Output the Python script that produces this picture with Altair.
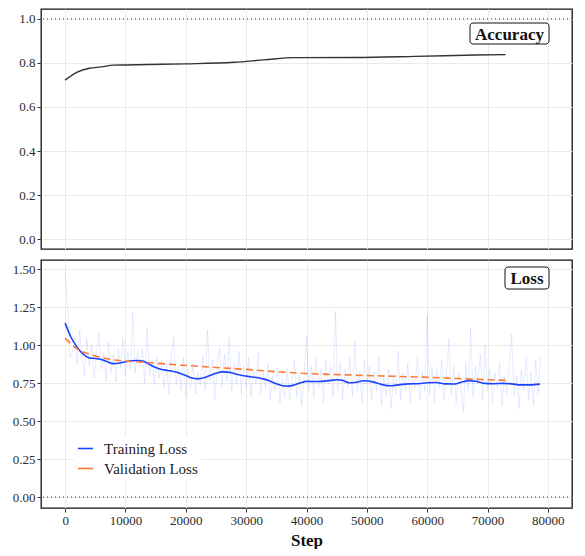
import altair as alt
import pandas as pd

FONT = "Liberation Serif"

# ---------------- data ----------------
acc_steps = [0, 2000, 4000, 6000, 8000, 10000, 14000, 20000, 28000, 33000, 38000, 48000, 58000, 68000, 73000]
acc_vals = [0.722, 0.758, 0.776, 0.782, 0.790, 0.791, 0.793, 0.796, 0.803, 0.814, 0.824, 0.825, 0.830, 0.836, 0.838]

raw_steps = list(range(0, 78801, 400))
raw_loss = [
    1.48, 1.26, 0.92, 0.95, 1.05, 0.87, 1.10, 0.92, 0.80, 1.05,
    0.86, 1.00, 0.78, 0.96, 1.08, 0.84, 0.95, 0.76, 1.02, 0.82,
    0.94, 0.76, 0.98, 0.85, 1.05, 0.80, 0.95, 0.84, 1.21, 0.82,
    0.95, 0.86, 0.98, 0.75, 1.12, 0.80, 0.90, 0.74, 0.92, 0.78,
    0.90, 0.72, 0.88, 0.68, 0.95, 1.05, 0.74, 0.86, 0.70, 0.92,
    0.66, 0.84, 0.72, 0.88, 0.68, 0.82, 0.74, 0.92, 0.70, 1.10,
    0.76, 0.90, 0.64, 0.86, 0.98, 0.72, 0.94, 0.76, 1.05, 0.70,
    0.88, 0.74, 0.96, 0.68, 0.86, 0.72, 0.92, 0.66, 0.84, 0.74,
    0.95, 0.68, 0.82, 0.72, 0.88, 0.64, 0.80, 0.70, 0.85, 0.62,
    0.78, 0.66, 0.84, 0.64, 0.76, 0.90, 0.66, 0.82, 0.60, 0.80,
    1.06, 0.70, 0.86, 0.66, 0.92, 0.72, 0.84, 0.62, 0.90, 0.74,
    0.86, 0.66, 1.22, 0.70, 0.88, 0.64, 0.84, 0.72, 0.92, 0.66,
    1.02, 0.70, 0.82, 0.62, 0.90, 0.74, 0.86, 0.64, 0.82, 0.70,
    0.92, 0.60, 0.80, 0.66, 0.84, 0.58, 0.78, 0.68, 0.96, 0.64,
    0.82, 0.70, 0.88, 0.62, 0.80, 0.72, 0.92, 0.64, 0.82, 0.70,
    1.20, 0.68, 0.86, 0.62, 0.84, 0.72, 0.90, 0.64, 0.80, 1.04,
    0.68, 0.86, 0.62, 0.82, 0.72, 0.56, 0.88, 0.70, 1.11, 0.66,
    0.86, 0.74, 0.94, 0.64, 1.00, 0.70, 0.84, 0.62, 0.82, 0.72,
    0.88, 0.60, 0.80, 0.68, 0.86, 1.07, 0.66, 0.80, 0.58, 0.84,
    0.70, 0.92, 0.64, 0.82, 0.60, 0.90, 0.68, 0.93,
]

train_steps = [0, 1000, 2000, 3000, 4000, 5000, 6000, 7000, 8000, 9000,
               10000, 11000, 12000, 13000, 14000, 15000, 16000, 17000, 18000, 19000,
               20000, 21000, 22000, 23000, 24000, 25000, 26000, 27000, 28000, 29000,
               30000, 31000, 32000, 33000, 34000, 35000, 36000, 37000, 38000, 39000,
               40000, 42000, 44000, 45000, 46000, 47000, 48000, 49500, 51000, 52500,
               54000, 55500, 57000, 58500, 60000, 61500, 63000, 64500, 66000, 67000,
               68000, 69500, 71000, 72500, 74000, 75500, 77000, 78700]
train_loss = [1.145, 1.050, 0.985, 0.940, 0.915, 0.912, 0.905, 0.890, 0.878, 0.882,
              0.890, 0.897, 0.899, 0.893, 0.872, 0.852, 0.840, 0.833, 0.826, 0.815,
              0.800, 0.783, 0.778, 0.785, 0.800, 0.815, 0.824, 0.822, 0.813, 0.803,
              0.796, 0.790, 0.785, 0.776, 0.762, 0.745, 0.733, 0.730, 0.738, 0.752,
              0.761, 0.760, 0.768, 0.772, 0.768, 0.752, 0.754, 0.765, 0.758, 0.740,
              0.732, 0.740, 0.745, 0.746, 0.752, 0.754, 0.745, 0.744, 0.760, 0.766,
              0.762, 0.748, 0.746, 0.748, 0.745, 0.738, 0.738, 0.743]

val_steps = [0, 2000, 4000, 6000, 8000, 10000, 13000, 16000, 20000, 25000,
             30000, 35000, 40000, 45000, 50000, 55000, 60000, 65000, 70000, 73000]
val_loss = [1.046, 0.975, 0.940, 0.918, 0.903, 0.895, 0.887, 0.878, 0.866, 0.853,
            0.840, 0.825, 0.813, 0.806, 0.800, 0.794, 0.788, 0.780, 0.772, 0.768]

x_ticks = [0, 10000, 20000, 30000, 40000, 50000, 60000, 70000, 80000]
acc_ticks = [0.0, 0.2, 0.4, 0.6, 0.8, 1.0]
loss_ticks = [0.0, 0.25, 0.5, 0.75, 1.0, 1.25, 1.5]
series_names = ["Training Loss", "Validation Loss"]
series_colors = ["#1a44ff", "#ff7a33"]

# ---------------- frames ----------------
acc_df = pd.DataFrame({"step": acc_steps, "value": acc_vals})
raw_df = pd.DataFrame({"step": raw_steps, "value": raw_loss})
train_df = pd.DataFrame({"step": train_steps, "value": train_loss, "series": series_names[0]})
val_df = pd.DataFrame({"step": val_steps, "value": val_loss, "series": series_names[1]})

W = 531
H_TOP = 240
H_BOT = 248
GAP = 9
x_scale = alt.Scale(domain=[-4000, 84000], nice=False, zero=False)
y_top_scale = alt.Scale(domain=[-0.045, 1.045], nice=False, zero=False)
y_bot_scale = alt.Scale(domain=[-0.072, 1.56], nice=False, zero=False)

y_axis_common = dict(title=None, domain=False, tickColor="#333333", tickSize=4,
                     labelPadding=2, labelColor="#2b2b2b", labelFontSize=13,
                     minExtent=32, maxExtent=32, gridColor="#ebebeb")

x_top = alt.X("step:Q", scale=x_scale,
              axis=alt.Axis(values=x_ticks, labels=False, ticks=False, domain=False,
                            title=None, gridColor="#ebebeb"))
x_bot = alt.X("step:Q", scale=x_scale,
              axis=alt.Axis(values=x_ticks, format="d", title="Step", domain=False,
                            tickColor="#333333", tickSize=4, labelPadding=2,
                            labelColor="#2b2b2b", labelFontSize=13,
                            titleFontSize=17, titleFontWeight="bold", titleColor="#111111",
                            titlePadding=5, gridColor="#ebebeb"))


def label_box(text, x0, x1, y0, y1):
    df = pd.DataFrame({"label": [text]})
    box = alt.Chart(df).mark_rect(fill="white", stroke="#111111", strokeWidth=1,
                                  cornerRadius=3).encode(
        x=alt.value(x0), x2=alt.value(x1), y=alt.value(y0), y2=alt.value(y1))
    txt = alt.Chart(df).mark_text(fontSize=17, fontWeight="bold", font=FONT,
                                  color="#111111", baseline="middle", align="center").encode(
        x=alt.value((x0 + x1) / 2), y=alt.value((y0 + y1) / 2 + 1), text="label:N")
    return box + txt


# ---------------- top panel ----------------
top_rule = alt.Chart(pd.DataFrame({"v": [1.0]})).mark_rule(
    color="#333333", strokeWidth=1, strokeDash=[1, 3]).encode(
    y=alt.Y("v:Q", scale=y_top_scale,
            axis=alt.Axis(values=acc_ticks, format=".1f", **y_axis_common)))
acc_line = alt.Chart(acc_df).mark_line(color="#333333", strokeWidth=1.4,
                                       interpolate="monotone").encode(
    x=x_top, y=alt.Y("value:Q", scale=y_top_scale))
top = alt.layer(top_rule, acc_line, label_box("Accuracy", 429, 508, 14, 35)).properties(
    width=W, height=H_TOP)

# ---------------- bottom panel ----------------
bot_rule = alt.Chart(pd.DataFrame({"v": [0.0]})).mark_rule(
    color="#333333", strokeWidth=1, strokeDash=[1, 3]).encode(
    y=alt.Y("v:Q", scale=y_bot_scale,
            axis=alt.Axis(values=loss_ticks, format=".2f", **y_axis_common)))
raw_line = alt.Chart(raw_df).mark_line(color="#3355ff", strokeWidth=0.8,
                                       strokeOpacity=0.15).encode(
    x=x_bot, y=alt.Y("value:Q", scale=y_bot_scale))

color_enc = alt.Color("series:N",
                      scale=alt.Scale(domain=series_names, range=series_colors),
                      legend=alt.Legend(title=None, orient="none",
                                        legendX=33, legendY=H_TOP + GAP + 179,
                                        fillColor="white", padding=3, labelFontSize=15,
                                        labelColor="#222222", symbolType="stroke",
                                        symbolSize=230, symbolStrokeWidth=1.6,
                                        labelOffset=10, rowPadding=3))
train_line = alt.Chart(train_df).mark_line(strokeWidth=1.6, interpolate="monotone").encode(
    x=x_bot, y=alt.Y("value:Q", scale=y_bot_scale), color=color_enc)
val_line = alt.Chart(val_df).mark_line(strokeWidth=1.6, interpolate="monotone",
                                       strokeDash=[7, 4]).encode(
    x=x_bot, y=alt.Y("value:Q", scale=y_bot_scale), color=color_enc)

bottom = alt.layer(bot_rule, raw_line, train_line, val_line,
                   label_box("Loss", 464, 508, 7, 29)).properties(width=W, height=H_BOT)

chart = alt.vconcat(top, bottom, spacing=GAP).properties(padding=0).configure(
    font=FONT).configure_view(stroke="#111111", strokeWidth=1.3).configure_axis(gridWidth=1)

chart.save("out.html", embed_options={"renderer": "svg", "actions": False})
